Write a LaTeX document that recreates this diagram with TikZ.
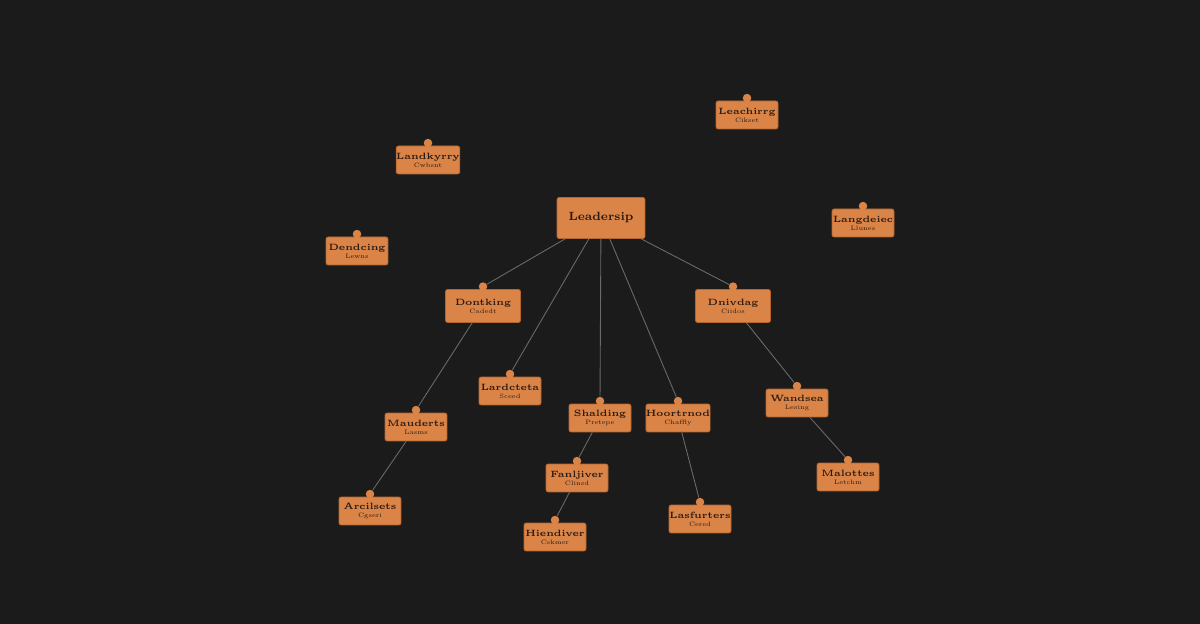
\documentclass[tikz,border=0pt]{standalone}
\usepackage{tikz}
\usetikzlibrary{positioning}
\definecolor{bgdark}{HTML}{1B1B1B}
\definecolor{boxorange}{HTML}{DA8448}
\definecolor{boxedge}{HTML}{B5652F}
\definecolor{ink}{HTML}{2B1A10}
\definecolor{wire}{HTML}{6A6A6A}
\tikzset{topic/.style = {shape=rectangle, rounded corners=1.2pt, draw=boxedge, fill=boxorange, text=ink, minimum width=1.24cm, minimum height=0.56cm, align=center, inner sep=0pt, font=\fontsize{5.2}{5.8}\selectfont\bfseries}}
\tikzset{lead/.style = {topic, minimum width=1.76cm, minimum height=0.82cm, font=\fontsize{6.8}{8}\selectfont\bfseries}}
\tikzset{wide/.style = {minimum width=1.5cm, minimum height=0.66cm}}
\tikzset{knob/.style = {shape=circle, fill=boxorange, inner sep=0pt, minimum size=0.17cm}}
\tikzset{edge/.style = {-, draw=wire, line width=0.5pt}}
\newcommand{\sublabel}[1]{\\[-1.2pt]{\fontsize{3.6}{4}\selectfont\mdseries #1}}

\begin{document}
\begin{tikzpicture}[x=0.02cm, y=-0.02cm]
                    \fill[bgdark] (0,0) rectangle (1200,624);
                    \useasboundingbox (0,0) rectangle (1200,624);

                    \node[lead] (ldr) at (601,218) {Leadersip};

                    \node[topic] (lchg) at (747,115) {Leachirrg\sublabel{Cikset}};
                    \node[topic] (lndk) at (428,160) {Landkyrry\sublabel{Cwbsnt}};
                    \node[topic] (dend) at (357,251) {Dendcing\sublabel{Lewns}};
                    \node[topic] (lang) at (863,223) {Langdeiec\sublabel{Llunes}};
                    \node[topic, wide] (dont) at (483,306) {Dontking\sublabel{Cadedt}};
                    \node[topic, wide] (dniv) at (733,306) {Dnivdag\sublabel{Ciidos}};
                    \node[topic] (lard) at (510,391) {Lardcteta\sublabel{Sceed}};
                    \node[topic] (shal) at (600,418) {Shalding\sublabel{Pretepe}};
                    \node[topic] (hoor) at (678,418) {Hoortrnod\sublabel{Chaffly}};
                    \node[topic] (maud) at (416,427) {Mauderts\sublabel{Lasms}};
                    \node[topic] (wand) at (797,403) {Wandsea\sublabel{Lesing}};
                    \node[topic] (fanl) at (577,478) {Fanljiver\sublabel{Clinsd}};
                    \node[topic] (malo) at (848,477) {Malottes\sublabel{Letchm}};
                    \node[topic] (arci) at (370,511) {Arcilsets\sublabel{Cgseri}};
                    \node[topic] (hien) at (555,537) {Hiendiver\sublabel{Cskmer}};
                    \node[topic] (lasf) at (700,519) {Lasfurters\sublabel{Cered}};

                    % knobs on top of the boxes
                    \foreach \n in {lchg,lndk,dend,lang,dont,dniv,lard,shal,hoor,maud,wand,fanl,malo,arci,hien,lasf}
                        \node[knob, above=-0.04cm of \n] (k\n) {};

                    \draw[edge] (ldr) -- (kdont);
                    \draw[edge] (ldr) -- (klard);
                    \draw[edge] (ldr) -- (kshal);
                    \draw[edge] (ldr) -- (khoor);
                    \draw[edge] (ldr) -- (kdniv);
                    \draw[edge] (dont) -- (kmaud);
                    \draw[edge] (maud) -- (karci);
                    \draw[edge] (dniv) -- (kwand);
                    \draw[edge] (wand) -- (kmalo);
                    \draw[edge] (shal) -- (kfanl);
                    \draw[edge] (fanl) -- (khien);
                    \draw[edge] (hoor) -- (klasf);
                \end{tikzpicture}
\end{document}
